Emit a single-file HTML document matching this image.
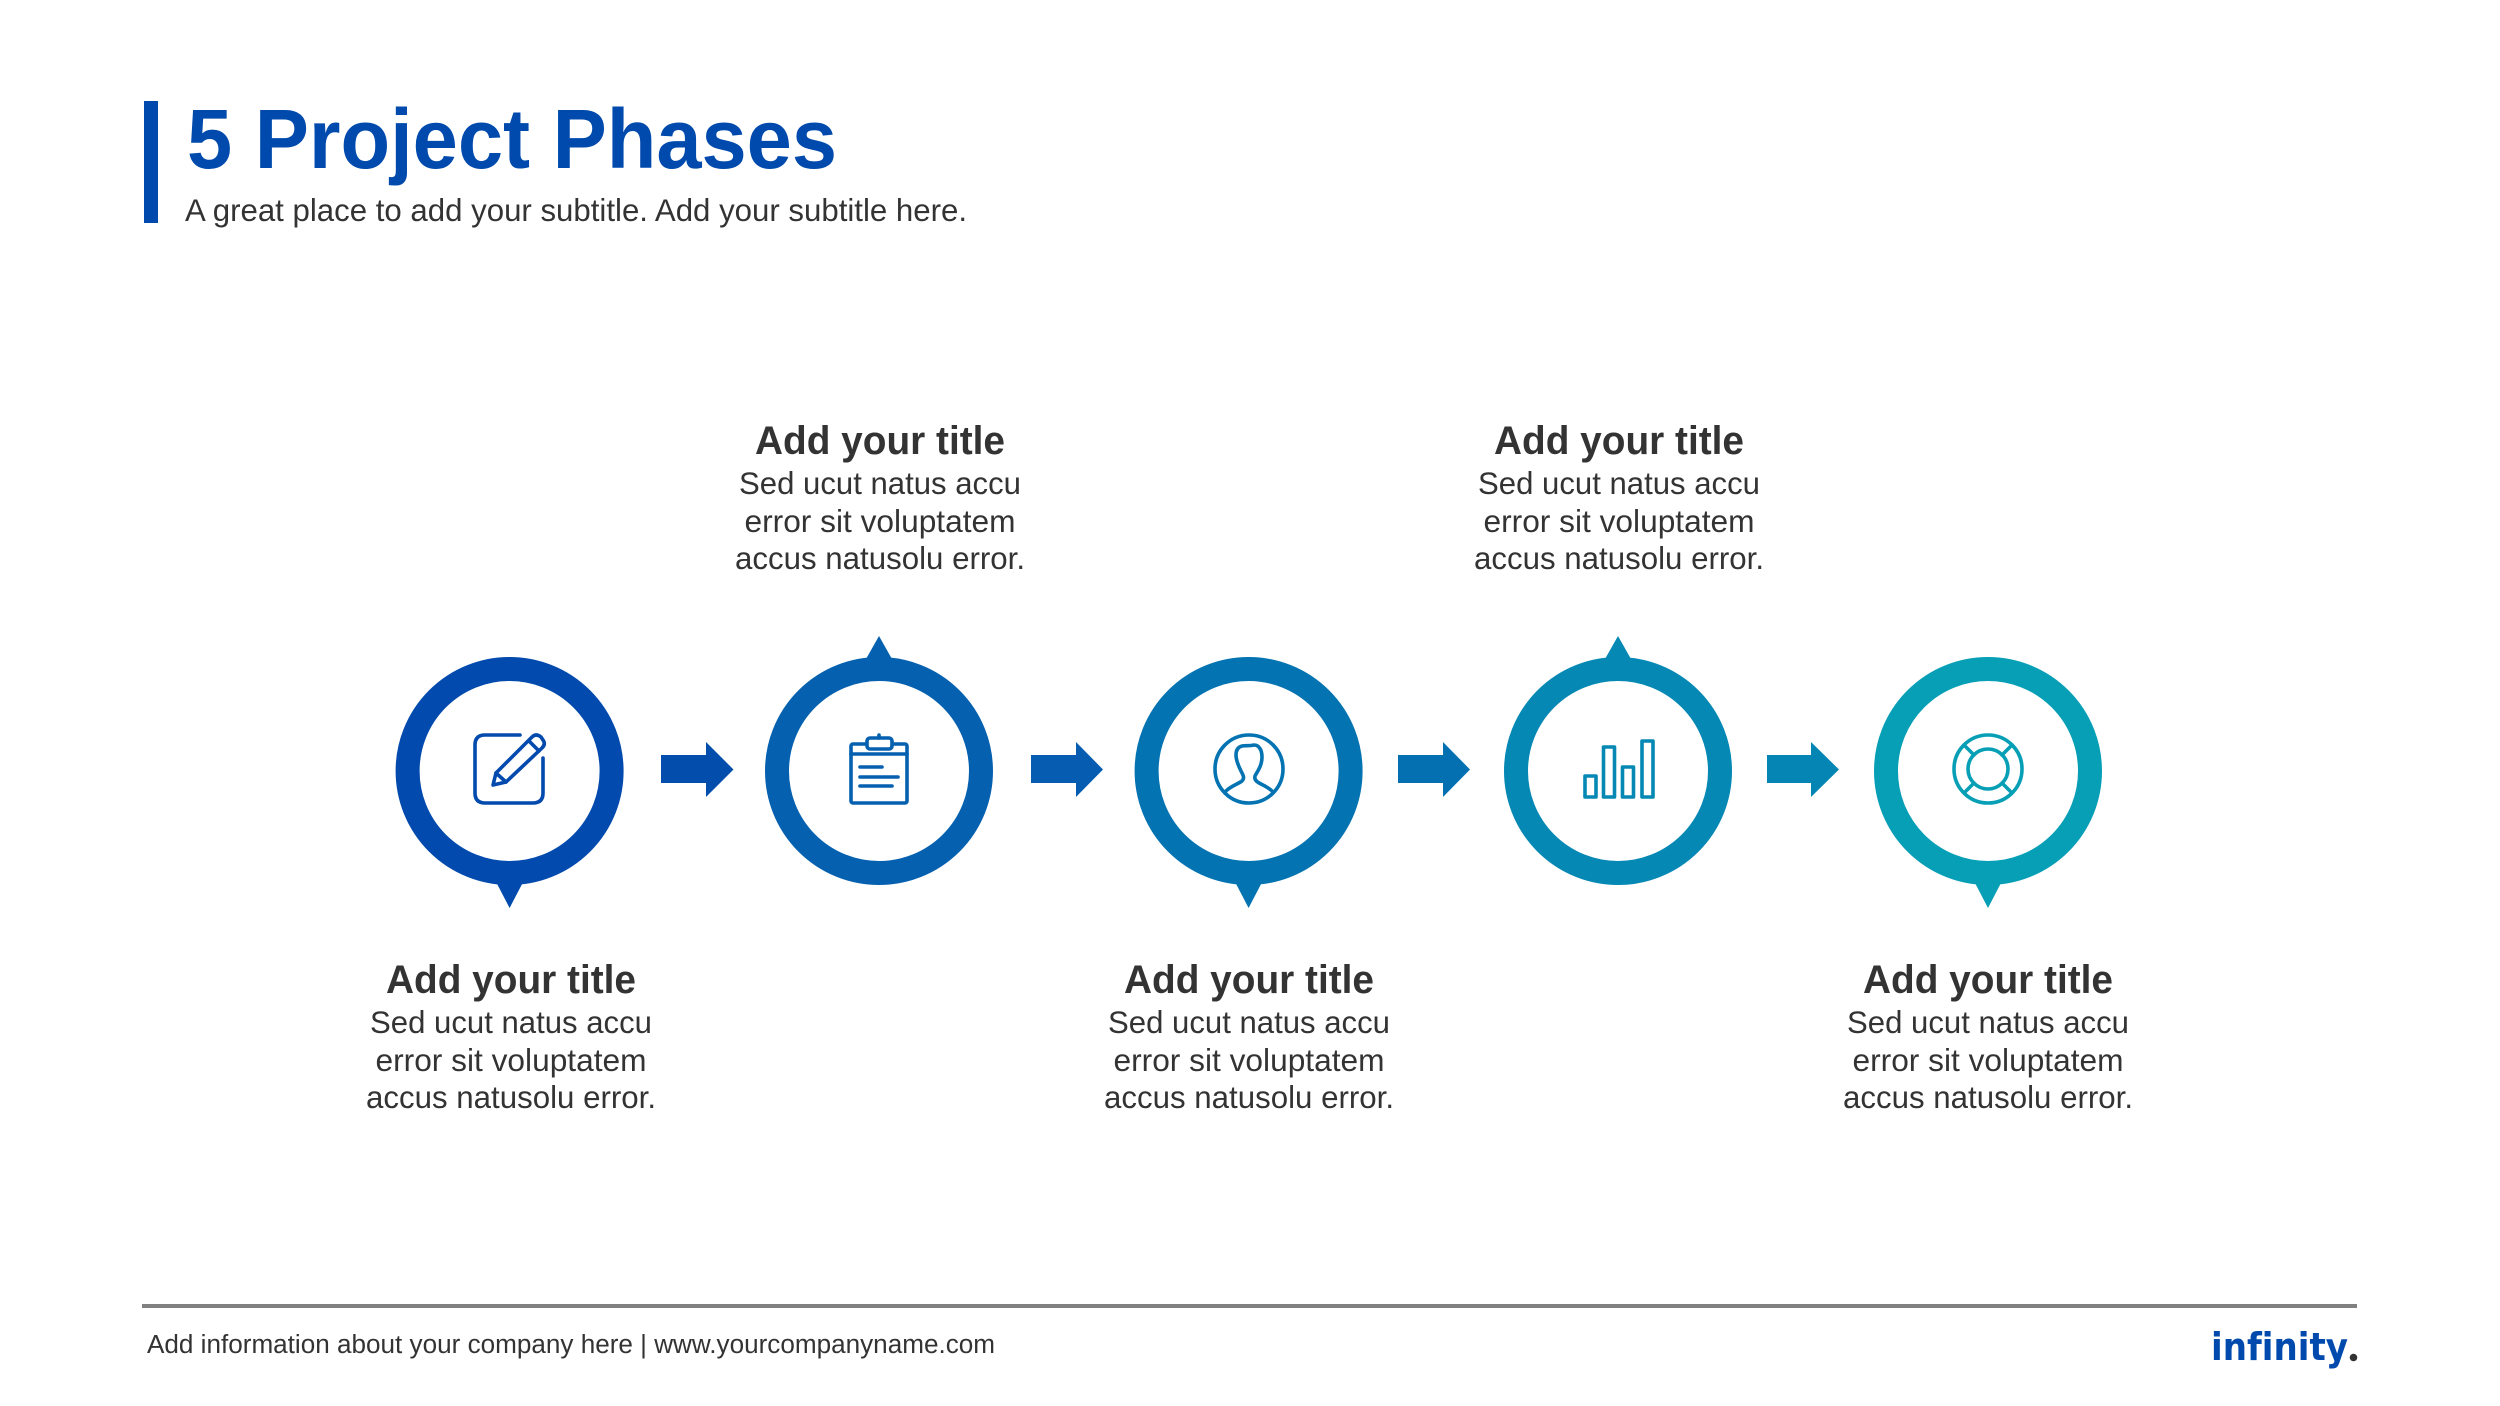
<!DOCTYPE html>
<html><head><meta charset="utf-8"><style>
html,body{margin:0;padding:0;background:#fff}
svg{display:block}
text{font-family:"Liberation Sans",sans-serif}
.t{font-size:40px;font-weight:700;fill:#333;text-anchor:middle}
.b{font-size:31.5px;fill:#333;text-anchor:middle}
.i{fill:none;stroke-width:3.6;stroke-linecap:round;stroke-linejoin:round}
</style></head><body>
<svg width="2500" height="1406" viewBox="0 0 2500 1406" xmlns="http://www.w3.org/2000/svg">
<rect width="2500" height="1406" fill="#fff"/>
<rect x="144" y="101" width="14" height="122" fill="#004aad"/>
<text x="187" y="168" font-size="84" font-weight="700" fill="#004aad" textLength="650" lengthAdjust="spacingAndGlyphs">5 Project Phases</text>
<text x="185" y="221" font-size="31.5" fill="#333" textLength="782" lengthAdjust="spacingAndGlyphs">A great place to add your subtitle. Add your subtitle here.</text>

<!-- Rings -->
<g fill="none" stroke-width="24">
<circle cx="509.6" cy="771" r="102" stroke="#024aad"/>
<circle cx="879" cy="771" r="102" stroke="#0561b0"/>
<circle cx="1248.6" cy="771" r="102" stroke="#0473b2"/>
<circle cx="1618" cy="771" r="102" stroke="#0588b4"/>
<circle cx="1988" cy="771" r="102" stroke="#079fb6"/>
</g>
<polygon points="496.6,883 522.6,883 509.6,908" fill="#024aad"/>
<polygon points="866,659 892,659 879,636" fill="#0561b0"/>
<polygon points="1235.6,883 1261.6,883 1248.6,908" fill="#0473b2"/>
<polygon points="1605,659 1631,659 1618,636" fill="#0588b4"/>
<polygon points="1975,883 2001,883 1988,908" fill="#079fb6"/>

<!-- Arrows -->
<polygon points="661,755 706,755 706,742 733.5,769.5 706,797 706,783 661,783" fill="#034dad"/>
<polygon points="1031,755 1076,755 1076,742 1103,769.5 1076,797 1076,783 1031,783" fill="#055cb0"/>
<polygon points="1398,755 1443,755 1443,742 1470,769.5 1443,797 1443,783 1398,783" fill="#0470b2"/>
<polygon points="1767,755 1811,755 1811,742 1839,769.5 1811,797 1811,783 1767,783" fill="#0585b4"/>

<!-- Icon 1 -->
<g class="i" stroke="#024aad">
<path d="M520,735 H485 Q475,735 475,745 V793 Q475,803 485,803 H533 Q543,803 543,793 V758"/>
<path d="M493,785 L496,773 L532,737 Q536,733 541,737 L543,740 Q546,744 542,748 L506,782 Z"/>
<path d="M496,773 L506,782 M529,741 L539,751"/>
</g>
<!-- Icon 2 -->
<g class="i" stroke="#0561b0">
<rect x="851" y="744" width="56" height="59" rx="2"/>
<path d="M851,754 H907"/>
<rect x="867" y="738" width="25" height="11" rx="3" fill="#fff"/>
<path d="M879,735 V738"/>
<path d="M860,767 H882 M860,777 H898 M860,786 H892"/>
</g>
<!-- Icon 3 -->
<g class="i" stroke="#0473b2">
<circle cx="1249" cy="769" r="34"/>
<path d="M1226,791 C1231,786 1238,784 1242,781 C1245,778 1243,775 1241,771 C1238,765 1236,760 1236,755 C1236,750 1238,747 1242,746 C1246,745.500 1250,746 1254,745 C1259,745 1262,750 1262,757 C1262,766 1257,772 1255,776 C1254,780 1257,782 1261,784 C1265,786 1269,788 1272,791"/>
</g>
<!-- Icon 4 -->
<g class="i" stroke="#0588b4">
<rect x="1585" y="776" width="11" height="21"/>
<rect x="1603.500" y="747" width="11" height="50"/>
<rect x="1622.500" y="767" width="11" height="30"/>
<rect x="1642" y="741" width="11" height="56"/>
</g>
<!-- Icon 5 -->
<g class="i" stroke="#079fb6">
<circle cx="1988" cy="769" r="34"/>
<circle cx="1988" cy="769" r="20"/>
<path d="M1974,755 L1964,745 M2002,755 L2012,745 M1974,783 L1964,793 M2002,783 L2012,793"/>
</g>

<!-- Bottom text groups -->
<text class="t" x="511" y="993" textLength="250" lengthAdjust="spacingAndGlyphs">Add your title</text>
<text class="b" x="511" y="1033" textLength="282" lengthAdjust="spacingAndGlyphs">Sed ucut natus accu</text>
<text class="b" x="511" y="1071" textLength="271" lengthAdjust="spacingAndGlyphs">error sit voluptatem</text>
<text class="b" x="511" y="1108" textLength="290" lengthAdjust="spacingAndGlyphs">accus natusolu error.</text>

<text class="t" x="1249" y="993" textLength="250" lengthAdjust="spacingAndGlyphs">Add your title</text>
<text class="b" x="1249" y="1033" textLength="282" lengthAdjust="spacingAndGlyphs">Sed ucut natus accu</text>
<text class="b" x="1249" y="1071" textLength="271" lengthAdjust="spacingAndGlyphs">error sit voluptatem</text>
<text class="b" x="1249" y="1108" textLength="290" lengthAdjust="spacingAndGlyphs">accus natusolu error.</text>

<text class="t" x="1988" y="993" textLength="250" lengthAdjust="spacingAndGlyphs">Add your title</text>
<text class="b" x="1988" y="1033" textLength="282" lengthAdjust="spacingAndGlyphs">Sed ucut natus accu</text>
<text class="b" x="1988" y="1071" textLength="271" lengthAdjust="spacingAndGlyphs">error sit voluptatem</text>
<text class="b" x="1988" y="1108" textLength="290" lengthAdjust="spacingAndGlyphs">accus natusolu error.</text>

<!-- Top text groups -->
<text class="t" x="880" y="454" textLength="250" lengthAdjust="spacingAndGlyphs">Add your title</text>
<text class="b" x="880" y="494" textLength="282" lengthAdjust="spacingAndGlyphs">Sed ucut natus accu</text>
<text class="b" x="880" y="532" textLength="271" lengthAdjust="spacingAndGlyphs">error sit voluptatem</text>
<text class="b" x="880" y="569" textLength="290" lengthAdjust="spacingAndGlyphs">accus natusolu error.</text>

<text class="t" x="1619" y="454" textLength="250" lengthAdjust="spacingAndGlyphs">Add your title</text>
<text class="b" x="1619" y="494" textLength="282" lengthAdjust="spacingAndGlyphs">Sed ucut natus accu</text>
<text class="b" x="1619" y="532" textLength="271" lengthAdjust="spacingAndGlyphs">error sit voluptatem</text>
<text class="b" x="1619" y="569" textLength="290" lengthAdjust="spacingAndGlyphs">accus natusolu error.</text>

<!-- Footer -->
<rect x="142" y="1304" width="2215" height="4" fill="#808080"/>
<text x="147" y="1353" font-size="25.5" fill="#333" textLength="848" lengthAdjust="spacingAndGlyphs">Add information about your company here | www.yourcompanyname.com</text>
<text x="2211" y="1360" font-size="38" font-weight="700" fill="#004aad" style="font-family:'DejaVu Sans',sans-serif;font-variant-ligatures:none" textLength="137" lengthAdjust="spacingAndGlyphs">infinity</text>
<circle cx="2353.500" cy="1357.500" r="3.800" fill="#333"/>
</svg>
</body></html>
